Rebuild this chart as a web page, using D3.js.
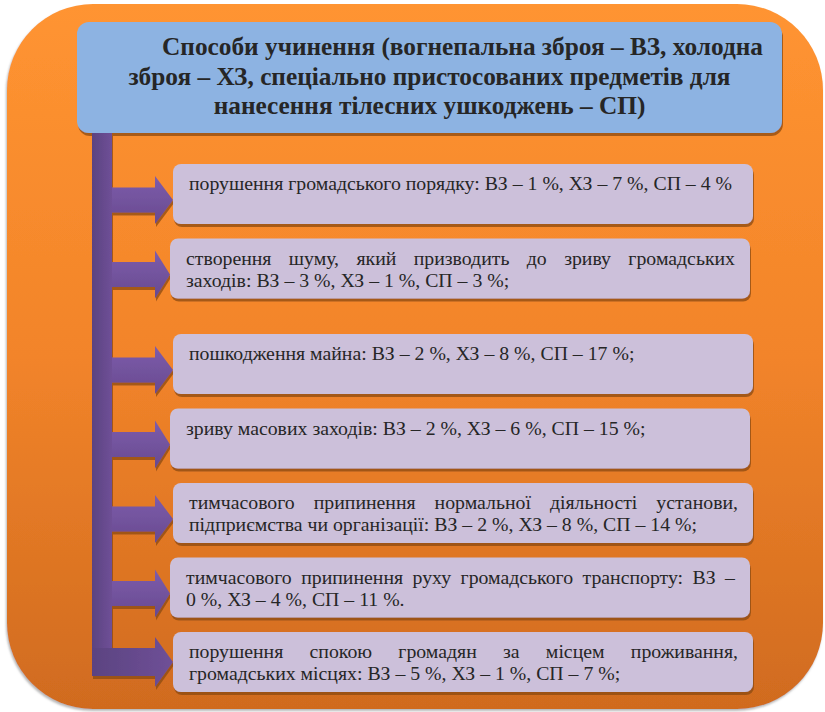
<!DOCTYPE html>
<html>
<head>
<meta charset="utf-8">
<script src="https://cdn.jsdelivr.net/npm/d3@7"></script>
<style>
  body { margin: 0; background: #fff; }
  svg { display: block; }
</style>
</head>
<body>
<svg id="chart" width="825" height="712"></svg>
<script>
// title of the scheme
const titleLines = [
  "Способи учинення (вогнепальна зброя – ВЗ, холодна",
  "зброя – ХЗ, спеціально пристосованих предметів для",
  "нанесення тілесних ушкоджень – СП)"
];

// categories and the three series (percent)
const categories = [
  "порушення громадського порядку",
  "створення шуму, який призводить до зриву громадських заходів",
  "пошкодження майна",
  "зриву масових заходів",
  "тимчасового припинення нормальної діяльності установи, підприємства чи організації",
  "тимчасового припинення руху громадського транспорту",
  "порушення спокою громадян за місцем проживання, громадських місцях"
];
const seriesNames = ["ВЗ", "ХЗ", "СП"];
const vz = [1, 3, 2, 2, 2, 0, 5];
const xz = [7, 1, 8, 6, 8, 4, 1];
const sp = [4, 3, 17, 15, 14, 11, 7];
const endings = ["", ";", ";", ";", ";", ".", ";"];
// word that opens the second line of each box (null = one line)
const secondLineStarts = [null, "заходів:", null, null, "підприємства", "0", "громадських"];

const serif = "Liberation Serif";
const bodySize = 19.8, titleSize = 25.3;

const svg = d3.select("#chart");
const defs = svg.append("defs");

function linGrad(id, x2, y2, stops) {
  const g = defs.append("linearGradient").attr("id", id)
    .attr("x1", 0).attr("y1", 0).attr("x2", x2).attr("y2", y2);
  stops.forEach(([o, c]) => g.append("stop").attr("offset", o).attr("stop-color", c));
}
linGrad("bg", 0, 1, [[0, "#ff9431"], [0.5, "#f2842a"], [1, "#d06b1f"]]);
linGrad("bar", 1, 0, [[0, "#5b4381"], [1, "#6f5097"]]);
linGrad("arrow", 0, 1, [[0, "#7d5cab"], [1, "#684a90"]]);

function shadow(id, dx, dy, color, op, blur) {
  defs.append("filter").attr("id", id)
    .attr("x", "-10%").attr("y", "-10%").attr("width", "130%").attr("height", "130%")
    .append("feDropShadow")
    .attr("dx", dx).attr("dy", dy).attr("stdDeviation", blur)
    .attr("flood-color", color).attr("flood-opacity", op);
}
shadow("outer", -1, 2, "#999", 0.7, 1);
shadow("brown", 1, 3, "#8a4a16", 0.75, 0.6);

// background panel
svg.append("rect")
  .attr("x", 7).attr("y", 4).attr("width", 816).attr("height", 705)
  .attr("rx", 86).attr("fill", "url(#bg)")
  .attr("filter", "url(#outer)");

// header
const header = { x: 77, y: 22, w: 705, h: 111 };
svg.append("rect")
  .attr("x", header.x).attr("y", header.y)
  .attr("width", header.w).attr("height", header.h)
  .attr("rx", 12).attr("fill", "#8db3e2")
  .attr("filter", "url(#brown)");

const cx = header.x + header.w / 2;
svg.append("g")
  .style("font-family", serif).style("font-size", titleSize + "px")
  .style("font-weight", "bold").attr("fill", "#262626")
  .attr("text-anchor", "middle")
  .selectAll("text")
  .data(titleLines)
  .join("text")
  .attr("x", (d, i) => i === 0 ? cx + 33 : cx)
  .attr("y", (d, i) => 55 + i * 29.7)
  .text((d) => d);

// rows
const n = categories.length;
const y = d3.scaleLinear().domain([2, n - 1]).range([334, 632]);
const rowTop = (i) => (i < 2 ? y(i) - 21 : y(i));
const boxH = 60, boxW = 580;
const boxX = (i) => 173 - (i % 2) * 3;

const rows = categories.map((c, i) => ({
  i,
  text: `${c}: ${seriesNames[0]} – ${vz[i]} %, ${seriesNames[1]} – ${xz[i]} %, ${seriesNames[2]} – ${sp[i]} %${endings[i]}`,
  brk: secondLineStarts[i],
  top: rowTop(i),
  x: boxX(i)
}));

// bar + arrows
const barX0 = 92, barX1 = 112, headX = 155;
const last = rows[n - 1];
const lastCy = last.top + boxH / 2;
const arrows = svg.append("g").attr("filter", "url(#brown)");

arrows.append("rect")
  .attr("x", barX0).attr("y", header.y + header.h)
  .attr("width", barX1 - barX0)
  .attr("height", lastCy + 14 - (header.y + header.h))
  .attr("fill", "url(#bar)");

function arrowPath(r) {
  const isLast = r.i === n - 1;
  const c = r.top + boxH / 2 + (isLast ? 0 : 6);
  const hs = isLast ? 14 : 12.5, hh = isLast ? 25 : 24;
  const x0 = isLast ? barX0 : barX1;
  const p = d3.path();
  p.moveTo(x0, c - hs);
  p.lineTo(headX, c - hs);
  p.lineTo(headX, c - hh);
  p.lineTo(r.x, c);
  p.lineTo(headX, c + hh);
  p.lineTo(headX, c + hs);
  p.lineTo(x0, c + hs);
  p.closePath();
  return p.toString();
}

arrows.selectAll("path")
  .data(rows)
  .join("path")
  .attr("d", arrowPath)
  .attr("fill", (d) => d.i === n - 1 ? "url(#bar)" : "url(#arrow)");

// boxes
const box = svg.append("g")
  .selectAll("g")
  .data(rows)
  .join("g");

box.append("rect")
  .attr("x", (d) => d.x).attr("y", (d) => d.top)
  .attr("width", boxW).attr("height", boxH)
  .attr("rx", 8).attr("fill", "#ccc0da")
  .attr("filter", "url(#brown)");

// measuring, for justified lines
const meas = svg.append("text")
  .style("font-family", serif).style("font-size", bodySize + "px")
  .attr("visibility", "hidden");
const measure = (s) => { meas.text(s); return meas.node().getComputedTextLength(); };

function splitLines(text, brk) {
  const words = text.split(" ");
  if (!brk) return [words];
  const k = words.indexOf(brk);
  return [words.slice(0, k), words.slice(k)];
}

box.each(function (d) {
  const g = d3.select(this);
  const tx = d.x + 16;
  const lineW = d.x + boxW - 15 - tx;
  const lines = splitLines(d.text, d.brk);
  lines.forEach((words, li) => {
    const t = g.append("text")
      .style("font-family", serif).style("font-size", bodySize + "px")
      .attr("fill", "#262626")
      .attr("y", d.top + 26 + li * 22);
    if (li < lines.length - 1 && words.length > 1) {
      // justify: spread the gaps between words
      const ws = words.map(measure);
      const gap = (lineW - d3.sum(ws)) / (words.length - 1);
      let x = tx;
      words.forEach((w, k) => {
        t.append("tspan").attr("x", x).text(w);
        x += ws[k] + gap;
      });
    } else {
      t.attr("x", tx).text(words.join(" "));
    }
  });
});
meas.remove();
</script>
</body>
</html>
